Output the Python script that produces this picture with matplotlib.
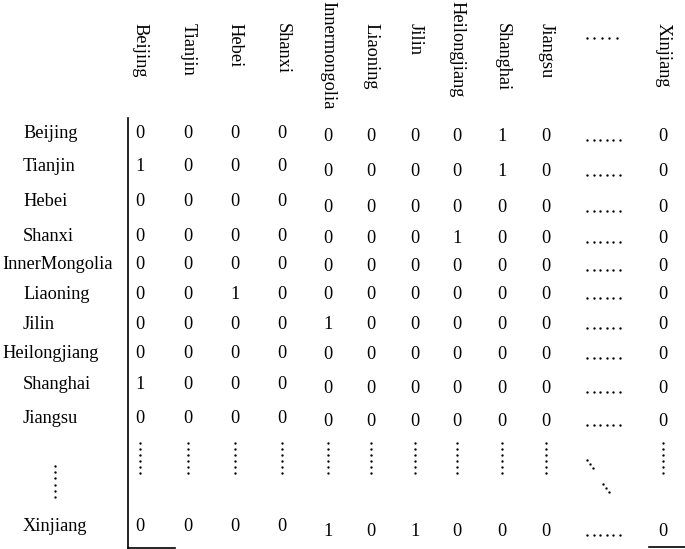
import numpy as np
import matplotlib
matplotlib.use('Agg')
from matplotlib import pyplot as plt

# provinces shown (the '......' column / row stands for the omitted ones)
cols = ['Beijing', 'Tianjin', 'Hebei', 'Shanxi', 'Innermongolia', 'Liaoning',
        'Jilin', 'Heilongjiang', 'Shanghai', 'Jiangsu', 'Xinjiang']
rows = ['Beijing', 'Tianjin', 'Hebei', 'Shanxi', 'InnerMongolia', 'Liaoning',
        'Jilin', 'Heilongjiang', 'Shanghai', 'Jiangsu', 'Xinjiang']

# adjacency values, row = province, col = province
vals = np.array([
    [0, 0, 0, 0, 0, 0, 0, 0, 1, 0, 0],
    [1, 0, 0, 0, 0, 0, 0, 0, 1, 0, 0],
    [0, 0, 0, 0, 0, 0, 0, 0, 0, 0, 0],
    [0, 0, 0, 0, 0, 0, 0, 1, 0, 0, 0],
    [0, 0, 0, 0, 0, 0, 0, 0, 0, 0, 0],
    [0, 0, 1, 0, 0, 0, 0, 0, 0, 0, 0],
    [0, 0, 0, 0, 1, 0, 0, 0, 0, 0, 0],
    [0, 0, 0, 0, 0, 0, 0, 0, 0, 0, 0],
    [1, 0, 0, 0, 0, 0, 0, 0, 0, 0, 0],
    [0, 0, 0, 0, 0, 0, 0, 0, 0, 0, 0],
    [0, 0, 0, 0, 1, 0, 1, 0, 0, 0, 0],
])

# layout (pixel coords, y down)
colx = [140, 188, 235, 282, 328, 371, 415, 457, 502, 546, 663]
rowy_l = [132, 165, 200, 235, 263, 293, 323, 352, 383, 417, 525]
rowy_r = [135, 170, 206, 237, 265, 293, 323, 353, 387, 420, 530]
fs = 13.2
font = 'Liberation Serif'

fig = plt.figure(figsize=(6.85, 5.49), dpi=100)
ax = fig.add_axes([0, 0, 1, 1])
ax.set_xlim(0, 685)
ax.set_ylim(549, 0)
ax.axis('off')

def dots(x0, y0, x1, y1, n):
    ax.plot(np.linspace(x0, x1, n), np.linspace(y0, y1, n), 'o', color='k',
            ms=1.7, mew=0)

# column headers
for name, x in zip(cols, colx):
    top = 1 if len(name) > 10 else 23
    ax.text(x, top, name, rotation=270, ha='center', va='top',
            fontsize=fs, family=font)
dots(587, 38, 617, 38, 5)

# row labels
for i, name in enumerate(rows):
    lx = 2 if len(name) > 10 else 23
    ax.text(lx, rowy_l[i] + 6, name, ha='left', va='baseline',
            fontsize=fs, family=font)
dots(55, 466, 55, 497, 6)

# matrix cells
for i in range(len(rows)):
    for j in range(len(cols)):
        y = rowy_l[i] if j < 4 else rowy_r[i]
        ax.text(colx[j], y + 6, str(vals[i, j]), ha='center', va='baseline',
                fontsize=fs, family=font)
    dots(587, rowy_r[i] + 5, 620, rowy_r[i] + 5, 6)

# vertical ellipses under each column, diagonal in the middle
for x in colx:
    dots(x, 443, x, 473, 6)
dots(587, 460, 593, 468, 3)
dots(603, 484, 609, 492, 3)

# frame lines
ax.plot([128, 128], [118, 548], color='k', lw=1.2)
ax.plot([128, 175], [548, 548], color='k', lw=1.2)
ax.plot([649, 685], [547, 547], color='k', lw=1.2)

fig.savefig('out.png', dpi=100)
